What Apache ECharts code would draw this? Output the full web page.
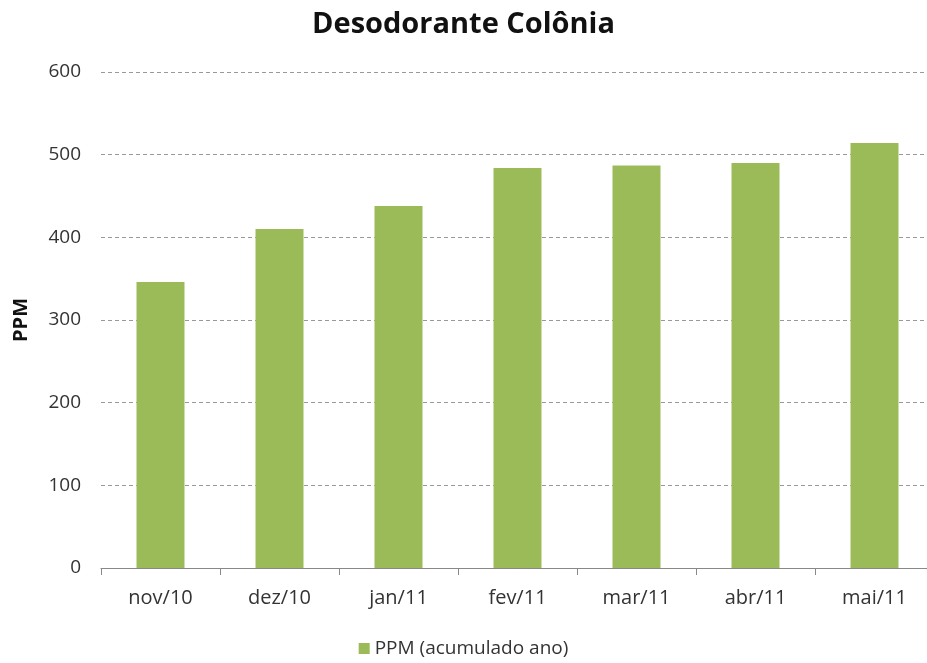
<!DOCTYPE html>
<html>
<head>
<meta charset="utf-8">
<script src="https://cdn.jsdelivr.net/npm/echarts@6/dist/echarts.min.js"></script>
<style>
  html, body { margin: 0; padding: 0; background: #fff; }
  #chart { width: 927px; height: 663px; }
</style>
</head>
<body>
<div id="chart"></div>
<script>
// dados do gráfico
var categories = ['nov/10', 'dez/10', 'jan/11', 'fev/11', 'mar/11', 'abr/11', 'mai/11']
var ppmValues = [346, 410, 438, 484, 487, 490, 514]
var seriesName = 'PPM (acumulado ano)'

var myChart = echarts.init(document.getElementById('chart'))
var font = '"Open Sans", "Noto Sans", sans-serif'

var option = {
  animation: false,
  textStyle: { fontFamily: font },
  title: {
    text: 'Desodorante Colônia',
    left: 'center',
    top: 5,
    textStyle: { fontFamily: font, fontSize: 29, fontWeight: 'bold', color: '#111' }
  },
  grid: { left: 101, right: -7, top: 72, bottom: 95, outerBoundsMode: 'none' },
  legend: {
    top: 634,
    left: 'center',
    data: [seriesName],
    itemWidth: 11,
    itemHeight: 11,
    icon: 'rect',
    itemGap: 4,
    textStyle: { fontFamily: font, fontSize: 19, color: '#333' }
  },
  xAxis: {
    type: 'category',
    data: categories,
    axisLine: { lineStyle: { color: '#888', width: 1 } },
    axisTick: { show: true, length: 7, lineStyle: { color: '#888' } },
    axisLabel: { fontFamily: font, fontSize: 20, color: '#333', margin: 20 }
  },
  yAxis: {
    type: 'value',
    min: 0,
    max: 600,
    interval: 100,
    name: 'PPM',
    nameLocation: 'middle',
    nameGap: 70,
    nameRotate: 90,
    nameTextStyle: { fontFamily: font, fontSize: 20, fontWeight: 'bold', color: '#111' },
    axisLine: { show: false },
    axisTick: { show: false },
    axisLabel: { fontFamily: font, fontSize: 19, color: '#333', margin: 20 },
    splitLine: { show: true, lineStyle: { color: '#999', type: [4, 3], width: 1 } }
  },
  series: [
    {
      name: seriesName,
      type: 'bar',
      barWidth: 48,
      itemStyle: { color: '#9BBB59' },
      data: ppmValues
    }
  ]
}
myChart.setOption(option)
</script>
</body>
</html>
